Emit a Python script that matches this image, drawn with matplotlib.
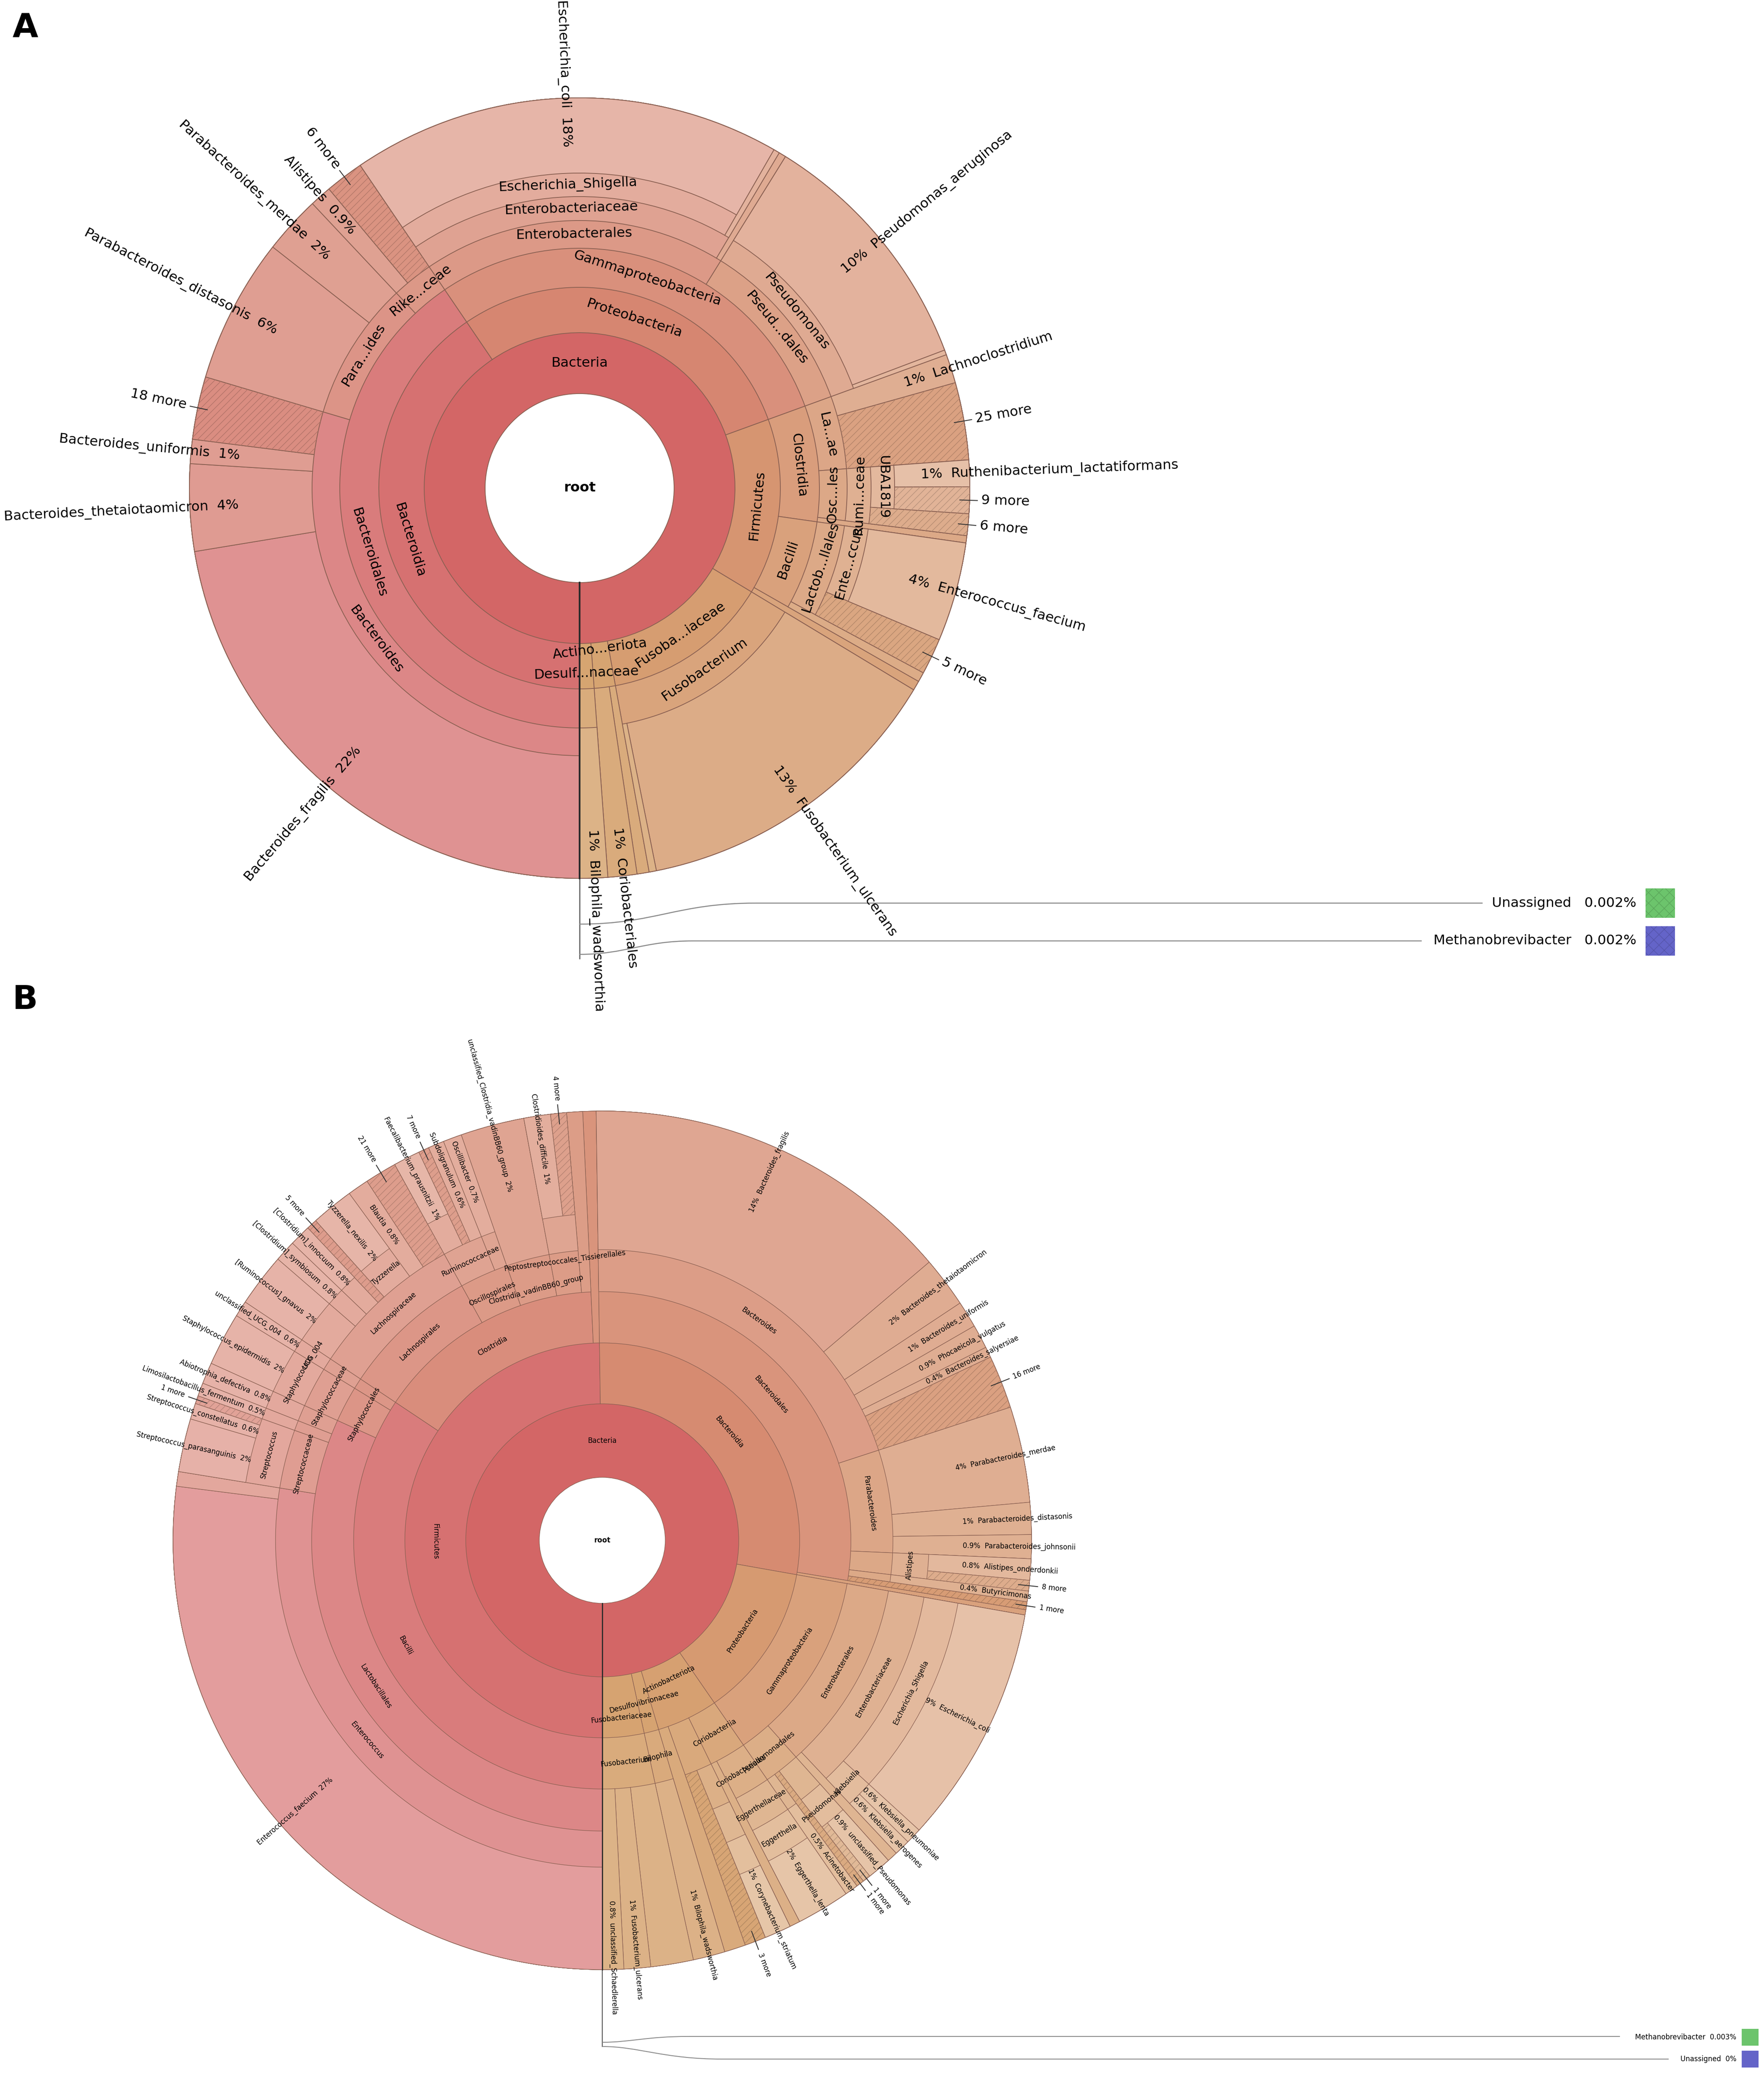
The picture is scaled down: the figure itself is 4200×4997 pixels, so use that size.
import re
import colorsys
import numpy as np
import matplotlib
matplotlib.use("Agg")
import matplotlib.pyplot as plt
from matplotlib.patches import Wedge, Rectangle, PathPatch
from matplotlib.path import Path

plt.rcParams['font.family'] = ['DejaVu Sans']
plt.rcParams['hatch.linewidth'] = 0.35

# ------------------------------------------------------------------ data
F = "Bacteria"

# Panel A: leaves in clockwise order starting at 6 o'clock (lineage from ring 1)
A_leaf_paths = [
    (F, "Bacteroidia", "Bacteroidales", "Bacteroides", "Bacteroides_fragilis"),
    (F, "Bacteroidia", "Bacteroidales", "Bacteroides", "Bacteroides_thetaiotaomicron"),
    (F, "Bacteroidia", "Bacteroidales", "Bacteroides", "Bacteroides_uniformis"),
    (F, "Bacteroidia", "Bacteroidales", "Bacteroides", "18 more"),
    (F, "Bacteroidia", "Bacteroidales", "Para...ides", "Parabacteroides_distasonis"),
    (F, "Bacteroidia", "Bacteroidales", "Para...ides", "Parabacteroides_merdae"),
    (F, "Bacteroidia", "Bacteroidales", "Rike...ceae", "Alistipes"),
    (F, "Bacteroidia", "Bacteroidales", "Rike...ceae", "6 more"),
    (F, "Proteobacteria", "Gammaproteobacteria", "Enterobacterales", "Enterobacteriaceae",
     "Escherichia_Shigella", "Escherichia_coli"),
    (F, "Proteobacteria", "Gammaproteobacteria", "Enterobacterales", "Enterobacteriaceae", ""),
    (F, "Proteobacteria", "Gammaproteobacteria", "Enterobacterales", ""),
    (F, "Proteobacteria", "Gammaproteobacteria", "Pseud...dales", "Pseudomonas", "Pseudomonas_aeruginosa"),
    (F, "Proteobacteria", "Gammaproteobacteria", "Pseud...dales", "Pseudomonas", ""),
    (F, "Firmicutes", "Clostridia", "La...ae", "Lachnoclostridium"),
    (F, "Firmicutes", "Clostridia", "La...ae", "25 more"),
    (F, "Firmicutes", "Clostridia", "Osc...les", "Rumi...ceae", "UBA1819", "Ruthenibacterium_lactatiformans"),
    (F, "Firmicutes", "Clostridia", "Osc...les", "Rumi...ceae", "UBA1819", "9 more"),
    (F, "Firmicutes", "Clostridia", "Osc...les", "Rumi...ceae", "6 more"),
    (F, "Firmicutes", "Clostridia", ""),
    (F, "Firmicutes", "Bacilli", "Lactob...llales", "Ente...ccus", "Enterococcus_faecium"),
    (F, "Firmicutes", "Bacilli", "Lactob...llales", "5 more"),
    (F, "Firmicutes", "Bacilli", ""),
    (F, "Firmicutes", ""),
    (F, "Fusoba...iaceae", "Fusobacterium", "Fusobacterium_ulcerans"),
    (F, "Fusoba...iaceae", "Fusobacterium", ""),
    (F, "Actino...eriota", ""),
    (F, "Actino...eriota", "Coriobacteriales"),
    (F, "Desulf...naceae", "Bilophila", "Bilophila_wadsworthia"),
]
A_leaf_values = [22.4, 3.6, 1.0, 2.6, 6.0, 2.4, 0.9, 1.6,
                 17.8, 0.25, 0.3, 10.4, 0.2,
                 1.2, 3.2, 1.1, 1.1, 0.9, 0.3, 4.1, 1.5, 0.4, 0.4,
                 13.2, 0.3, 0.5, 1.2, 1.15]
A_legend_names = ["Unassigned", "Methanobrevibacter"]
A_legend_values = [0.002, 0.002]
A_legend_text = ["0.002%", "0.002%"]

# Panel B
B_leaf_paths = [
    (F, "Firmicutes", "Bacilli", "Lactobacillales", "Enterococcus", "Enterococcus_faecium"),
    (F, "Firmicutes", "Bacilli", "Lactobacillales", "Enterococcus", ""),
    (F, "Firmicutes", "Bacilli", "Lactobacillales", "Streptococcaceae", "Streptococcus", "Streptococcus_parasanguinis"),
    (F, "Firmicutes", "Bacilli", "Lactobacillales", "Streptococcaceae", "Streptococcus", "Streptococcus_constellatus"),
    (F, "Firmicutes", "Bacilli", "Lactobacillales", "Streptococcaceae", "Streptococcus", "1 more"),
    (F, "Firmicutes", "Bacilli", "Lactobacillales", "Lactobacillaceae", "Limosilactobacillus", "Limosilactobacillus_fermentum"),
    (F, "Firmicutes", "Bacilli", "Lactobacillales", "Aerococcaceae", "Abiotrophia", "Abiotrophia_defectiva"),
    (F, "Firmicutes", "Bacilli", "Staphylococcales", "Staphylococcaceae", "Staphylococcus", "Staphylococcus_epidermidis"),
    (F, "Firmicutes", "Bacilli", "Erysipelotrichales", "Erysipelatoclostridiaceae", "UCG_004", "unclassified_UCG_004"),
    (F, "Firmicutes", "Clostridia", "Lachnospirales", "Lachnospiraceae", "Ruminococcus_gnavus_group", "[Ruminococcus]_gnavus"),
    (F, "Firmicutes", "Clostridia", "Lachnospirales", "Lachnospiraceae", "Lachnoclostridium", "[Clostridium]_symbiosum"),
    (F, "Firmicutes", "Clostridia", "Lachnospirales", "Lachnospiraceae", "Clostridium_innocuum_group", "[Clostridium]_innocuum"),
    (F, "Firmicutes", "Clostridia", "Lachnospirales", "Lachnospiraceae", "5 more"),
    (F, "Firmicutes", "Clostridia", "Lachnospirales", "Lachnospiraceae", "Tyzzerella", "Tyzzerella_nexilis"),
    (F, "Firmicutes", "Clostridia", "Lachnospirales", "Lachnospiraceae", "Blautia"),
    (F, "Firmicutes", "Clostridia", "Lachnospirales", "Lachnospiraceae", "21 more"),
    (F, "Firmicutes", "Clostridia", "Oscillospirales", "Ruminococcaceae", "Faecalibacterium", "Faecalibacterium_prausnitzii"),
    (F, "Firmicutes", "Clostridia", "Oscillospirales", "Ruminococcaceae", "7 more"),
    (F, "Firmicutes", "Clostridia", "Oscillospirales", "Ruminococcaceae", "Subdoligranulum"),
    (F, "Firmicutes", "Clostridia", "Oscillospirales", "Oscillospiraceae", "Oscillibacter"),
    (F, "Firmicutes", "Clostridia", "Clostridia_vadinBB60_group", "unclassified_Clostridia_vadinBB60_group"),
    (F, "Firmicutes", "Clostridia", "Peptostreptococcales_Tissierellales", "Peptostreptococcaceae", "Clostridioides_difficile"),
    (F, "Firmicutes", "Clostridia", "Peptostreptococcales_Tissierellales", "Peptostreptococcaceae", "4 more"),
    (F, "Firmicutes", "Clostridia", ""),
    (F, "Firmicutes", ""),
    (F, "Bacteroidia", "Bacteroidales", "Bacteroides", "Bacteroides_fragilis"),
    (F, "Bacteroidia", "Bacteroidales", "Bacteroides", "Bacteroides_thetaiotaomicron"),
    (F, "Bacteroidia", "Bacteroidales", "Bacteroides", "Bacteroides_uniformis"),
    (F, "Bacteroidia", "Bacteroidales", "Bacteroides", "Phocaeicola_vulgatus"),
    (F, "Bacteroidia", "Bacteroidales", "Bacteroides", "Bacteroides_salyersiae"),
    (F, "Bacteroidia", "Bacteroidales", "Bacteroides", "16 more"),
    (F, "Bacteroidia", "Bacteroidales", "Parabacteroides", "Parabacteroides_merdae"),
    (F, "Bacteroidia", "Bacteroidales", "Parabacteroides", "Parabacteroides_distasonis"),
    (F, "Bacteroidia", "Bacteroidales", "Parabacteroides", "Parabacteroides_johnsonii"),
    (F, "Bacteroidia", "Bacteroidales", "Rikenellaceae", "Alistipes", "Alistipes_onderdonkii"),
    (F, "Bacteroidia", "Bacteroidales", "Rikenellaceae", "Alistipes", "8 more"),
    (F, "Bacteroidia", "Bacteroidales", "Marinifilaceae", "Butyricimonas"),
    (F, "Bacteroidia", "Bacteroidales", "1 more"),
    (F, "Bacteroidia", ""),
    (F, "Proteobacteria", "Gammaproteobacteria", "Enterobacterales", "Enterobacteriaceae", "Escherichia_Shigella", "Escherichia_coli"),
    (F, "Proteobacteria", "Gammaproteobacteria", "Enterobacterales", "Enterobacteriaceae", "Klebsiella", "Klebsiella_pneumoniae"),
    (F, "Proteobacteria", "Gammaproteobacteria", "Enterobacterales", "Enterobacteriaceae", "Klebsiella", "Klebsiella_aerogenes"),
    (F, "Proteobacteria", "Gammaproteobacteria", "Enterobacterales", ""),
    (F, "Proteobacteria", "Gammaproteobacteria", "Pseudomonadales", "Pseudomonadaceae", "Pseudomonas", "unclassified_Pseudomonas"),
    (F, "Proteobacteria", "Gammaproteobacteria", "Pseudomonadales", "Pseudomonadaceae", "Pseudomonas", "1 more"),
    (F, "Proteobacteria", "Gammaproteobacteria", "Pseudomonadales", "1 more"),
    (F, "Proteobacteria", "Gammaproteobacteria", "Pseudomonadales", "Moraxellaceae", "Acinetobacter"),
    (F, "Actinobacteriota", "Coriobacteriia", "Coriobacteriales", "Eggerthellaceae", "Eggerthella", "Eggerthella_lenta"),
    (F, "Actinobacteriota", "Coriobacteriia", ""),
    (F, "Actinobacteriota", "Actinobacteria", "Corynebacteriales", "Corynebacteriaceae", "Corynebacterium", "Corynebacterium_striatum"),
    (F, "Actinobacteriota", "Actinobacteria", "3 more"),
    (F, "Actinobacteriota", ""),
    (F, "Desulfovibrionaceae", "Bilophila", "Bilophila_wadsworthia"),
    (F, "Fusobacteriaceae", "Fusobacterium", ""),
    (F, "Fusobacteriaceae", "Fusobacterium", "Fusobacterium_ulcerans"),
    (F, "Fusobacteriaceae", "Fusobacterium", "unclassified_Schaedlerella"),
]
B_leaf_values = [27.0, 0.55, 2.0, 0.6, 0.3, 0.5, 0.8, 2.0, 0.6,
                 2.0, 0.8, 0.8, 0.4, 1.6, 0.8, 1.2, 1.0, 0.4, 0.6, 0.7, 2.4, 1.0, 0.6, 0.6, 0.5,
                 14.0, 1.9, 1.0, 0.9, 0.4, 2.0, 3.6, 1.2, 0.9, 0.8, 0.4, 0.4, 0.3, 0.2,
                 9.0, 0.6, 0.6, 0.4, 0.9, 0.3, 0.3, 0.5,
                 2.0, 0.4, 1.0, 0.8, 0.8,
                 1.2, 1.6, 1.0, 0.8]
B_legend_names = ["Methanobrevibacter", "Unassigned"]
B_legend_values = [0.003, 0.0]
B_legend_text = ["0.003%", "0%"]

# ------------------------------------------------------------------ helpers
W, H, DPI = 4200, 4997, 300
MORE = re.compile(r"^\d+ more$")
EDGE = "#8a6052"


def polar(cx, cy, r, th):
    t = np.radians(th)
    return cx + r * np.sin(t), cy - r * np.cos(t)


def fmt_pct(v):
    return f"{v:.0f}%" if v >= 1 else f"{v:.1f}%"


def build_nodes(paths, values, extra):
    vals = np.asarray(values, float)
    total = vals.sum() + extra
    cum = np.concatenate([[0.0], np.cumsum(vals)])
    t0s = 180 + 360 * cum[:-1] / total
    t1s = 180 + 360 * cum[1:] / total
    nodes, n = [], len(paths)
    for d in range(1, max(len(p) for p in paths) + 1):
        i = 0
        while i < n:
            if len(paths[i]) < d:
                i += 1
                continue
            key = paths[i][:d]
            j = i
            while j + 1 < n and len(paths[j + 1]) >= d and paths[j + 1][:d] == key:
                j += 1
            nodes.append(dict(name=key[-1], depth=d, t0=t0s[i], t1=t1s[j],
                              leaf=(i == j and len(paths[i]) == d), value=vals[i:j + 1].sum()))
            i = j + 1
    return nodes


def node_color(nd):
    a = (nd['t0'] - 180) / 360.0
    h = (31.0 * a / 360.0) % 1.0
    L = 0.585 + 0.028 * nd['depth']
    if MORE.match(nd['name']):
        L -= 0.045
    return colorsys.hls_to_rgb(h, min(L, 0.9), 0.55)


def tang_rot(th):
    th = th % 360
    return 180 - th if 90 < th < 270 else -th


def draw_krona(ax, nodes, cx, cy, radii, R, fs, lw, lab_frac, fit, forced):
    fs_px = fs * DPI / 72.0
    for nd in sorted(nodes, key=lambda q: q['depth']):
        d = nd['depth']
        rin = radii[d - 1]
        col = node_color(nd)
        ax.add_patch(Wedge((cx, cy), R, nd['t0'] - 90, nd['t1'] - 90, width=R - rin,
                           facecolor=col, edgecolor=EDGE, lw=lw, zorder=d))
        if MORE.match(nd['name']):
            dark = tuple(c * 0.82 for c in col)
            ax.add_patch(Wedge((cx, cy), R, nd['t0'] - 90, nd['t1'] - 90, width=R - rin,
                               facecolor='none', edgecolor=dark, lw=0, hatch='//////', zorder=d + 0.1))
    # labels
    for nd in nodes:
        name = nd['name']
        if name == "":
            continue
        d = nd['depth']
        thm = ((nd['t0'] + nd['t1']) / 2.0) % 360
        if nd['leaf']:
            right = 0 < thm < 180
            if MORE.match(name):
                x0, y0 = polar(cx, cy, R * 0.975, thm)
                x1, y1 = polar(cx, cy, R * 1.02, thm)
                ax.plot([x0, x1], [y0, y1], color='#333333', lw=0.5, zorder=40)
                tx, ty = polar(cx, cy, R * 1.03, thm)
                ax.text(tx, ty, name, fontsize=fs, rotation=(90 - thm) if right else (270 - thm),
                        rotation_mode='anchor', ha='left' if right else 'right', va='center', zorder=41)
            else:
                pct = fmt_pct(nd['value'])
                tx, ty = polar(cx, cy, R * lab_frac, thm)
                if right:
                    ax.text(tx, ty, f"{pct}  {name}", fontsize=fs, rotation=90 - thm,
                            rotation_mode='anchor', ha='left', va='center', zorder=41)
                else:
                    ax.text(tx, ty, f"{name}  {pct}", fontsize=fs, rotation=270 - thm,
                            rotation_mode='anchor', ha='right', va='center', zorder=41)
        else:
            rin = radii[d - 1]
            rout = radii[d] if d < len(radii) else R
            rmid = (rin + rout) / 2.0 + forced.get(name, 0)
            arc = rmid * np.radians(nd['t1'] - nd['t0'])
            tw = len(name) * 0.58 * fs_px
            if name in forced or arc >= fit * tw:
                tx, ty = polar(cx, cy, rmid, thm)
                ax.text(tx, ty, name, fontsize=fs, rotation=tang_rot(thm), rotation_mode='anchor',
                        ha='center', va='center', zorder=41)
    ax.text(cx, cy, "root", fontsize=fs, fontweight='bold', ha='center', va='center', zorder=41)
    ax.plot([cx, cx], [cy + radii[0], cy + R], color='#2a2a2a', lw=lw * 2.2, zorder=30)


def leader(ax, p0, c1, c2, p3, xend, lw):
    verts = [p0, c1, c2, p3, (xend, p3[1])]
    codes = [Path.MOVETO, Path.CURVE4, Path.CURVE4, Path.CURVE4, Path.LINETO]
    ax.add_patch(PathPatch(Path(verts, codes), facecolor='none', edgecolor='#8a8a8a', lw=lw, zorder=5))


# ------------------------------------------------------------------ figure
fig = plt.figure(figsize=(W / DPI, H / DPI), dpi=DPI)
ax = fig.add_axes([0, 0, 1, 1])
ax.set_xlim(0, W)
ax.set_ylim(H, 0)
ax.axis('off')

# Panel A
A_c = (1380, 1162)
A_radii = [225, 370, 478, 571, 637, 694, 750]
A_R = 929
A_nodes = build_nodes(A_leaf_paths, A_leaf_values, sum(A_legend_values))
draw_krona(ax, A_nodes, A_c[0], A_c[1], A_radii, A_R, 7.8, 0.45, 0.875, 0.5,
           {"Actino...eriota": -38, "Desulf...naceae": 17, "Rike...ceae": 0})

cx, cy = A_c
ax.plot([cx, cx], [cy + A_R, 2282], color='#555555', lw=0.6, zorder=5)
leader(ax, (cx, 2200), (1560, 2200), (1610, 2150), (1800, 2150), 3530, 0.6)
leader(ax, (cx, 2272), (1490, 2272), (1530, 2240), (1650, 2240), 3385, 0.6)
for nm, tx, yy, col in zip(A_legend_names, A_legend_text, [2150, 2240], ['#6cc46c', '#6464c8']):
    ax.text(3896, yy, f"{nm}   {tx}", fontsize=7.8, ha='right', va='center')
    ax.add_patch(Rectangle((3918, yy - 35), 70, 70, facecolor=col, edgecolor='none'))
    ax.add_patch(Rectangle((3918, yy - 35), 70, 70, facecolor='none',
                           edgecolor=tuple(c * 0.85 for c in matplotlib.colors.to_rgb(col)),
                           lw=0, hatch='xxxx'))

# Panel B
B_c = (1434, 3667)
B_radii = [150, 325, 470, 592, 692, 778, 860]
B_R = 1022
B_nodes = build_nodes(B_leaf_paths, B_leaf_values, sum(B_legend_values))
draw_krona(ax, B_nodes, B_c[0], B_c[1], B_radii, B_R, 4.0, 0.3, 0.84, 0.45,
           {"Actinobacteriota": -30, "Desulfovibrionaceae": 0, "Fusobacteriaceae": 27,
            "Peptostreptococcales_Tissierellales": 30, "Clostridia_vadinBB60_group": -25})

cx, cy = B_c
ax.plot([cx, cx], [cy + B_R, 4872], color='#555555', lw=0.5, zorder=5)
leader(ax, (cx, 4862), (1500, 4862), (1540, 4848), (1640, 4848), 3857, 0.5)
leader(ax, (cx, 4872), (1520, 4872), (1580, 4902), (1720, 4902), 3973, 0.5)
for nm, tx, yy, col in zip(B_legend_names, B_legend_text, [4850, 4902], ['#6cc46c', '#6464c8']):
    ax.text(4134, yy, f"{nm}  {tx}", fontsize=4.0, ha='right', va='center')
    ax.add_patch(Rectangle((4147, yy - 20), 40, 40, facecolor=col, edgecolor='none'))

# panel letters
ax.text(30, 28, "A", fontsize=19, fontweight='bold', ha='left', va='top')
ax.text(30, 2342, "B", fontsize=19, fontweight='bold', ha='left', va='top')

fig.savefig("out.png", dpi=DPI)
